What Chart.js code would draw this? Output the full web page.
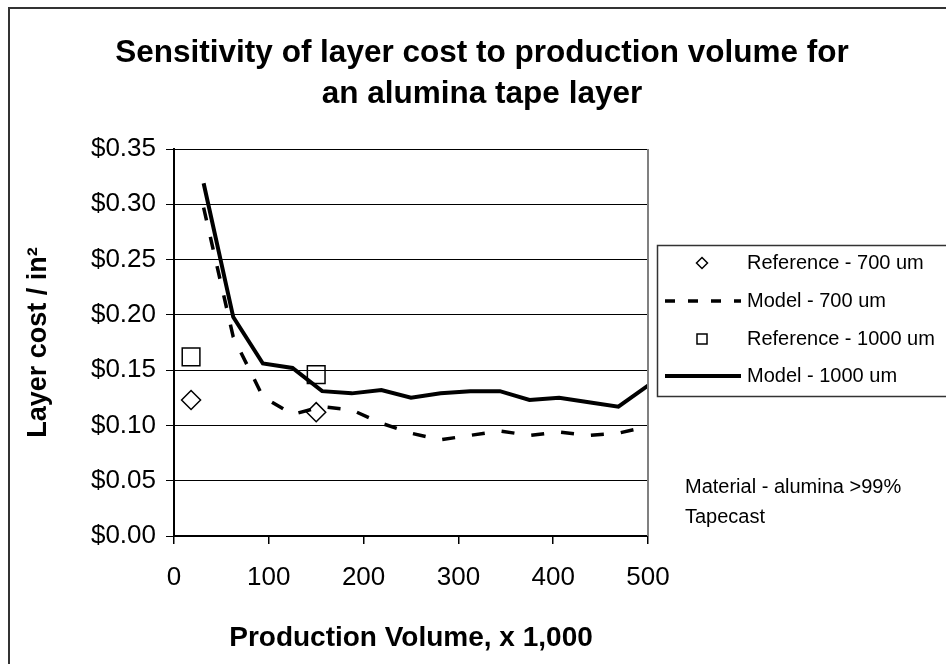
<!DOCTYPE html>
<html>
<head>
<meta charset="utf-8">
<script src="https://cdn.jsdelivr.net/npm/chart.js@4"></script>
<style>
  body { margin: 0; background: #fff; }
  canvas { display: block; }
</style>
</head>
<body>
<canvas id="cost-chart" width="946" height="664"></canvas>
<script>
var volumes = [31.25, 62.5, 93.75, 125, 156.25, 187.5, 218.75, 250, 281.25, 312.5, 343.75, 375, 406.25, 437.5, 468.75, 500];
var model700 = [0.297, 0.180, 0.126, 0.110, 0.117, 0.114, 0.102, 0.093, 0.087, 0.091, 0.095, 0.091, 0.094, 0.091, 0.093, 0.099];
var model1000 = [0.319, 0.198, 0.156, 0.152, 0.131, 0.129, 0.132, 0.125, 0.129, 0.131, 0.131, 0.123, 0.125, 0.121, 0.117, 0.136];
var refVolumes = [18, 150];
var ref700 = [0.123, 0.112];
var ref1000 = [0.162, 0.146];
var xTicks = [0, 100, 200, 300, 400, 500];
var titleLines = ['Sensitivity of layer cost to production volume for', 'an alumina tape layer'];
var noteLines = ['Material - alumina >99%', 'Tapecast'];

var FONT = '"Liberation Sans", Arial, sans-serif';

function pairs(xs, ys) {
	return xs.map(function(x, i) { return {x: x, y: ys[i]}; });
}

// title, border, legend box and note, drawn like the excel sheet
var extras = {
	id: 'extras',
	afterDraw: function(chart) {
		var c = chart.ctx, a = chart.chartArea;
		c.save();

		c.strokeStyle = '#808080';
		c.lineWidth = 2;
		c.beginPath();
		c.moveTo(a.right, a.top);
		c.lineTo(a.right, a.bottom);
		c.stroke();

		c.strokeStyle = '#333';
		c.lineWidth = 2;
		c.strokeRect(9, 8, 1000, 1000);

		c.fillStyle = '#000';
		c.textAlign = 'center';
		c.textBaseline = 'alphabetic';
		c.font = 'bold 31.5px ' + FONT;
		c.fillText(titleLines[0], 482, 62);
		c.fillText(titleLines[1], 482, 103);

		// legend
		c.strokeStyle = '#333';
		c.lineWidth = 1.5;
		c.strokeRect(657.5, 245.5, 400, 151);
		var rows = [263, 301, 339, 376];
		c.font = '20px ' + FONT;
		c.textAlign = 'left';
		c.textBaseline = 'middle';
		chart.data.datasets.forEach(function(ds, i) {
			var y = rows[i];
			c.strokeStyle = '#000';
			if (ds.showLine) {
				c.lineWidth = ds.borderWidth;
				c.setLineDash(ds.borderDash ? [10, 13] : []);
				c.beginPath();
				c.moveTo(665, y);
				c.lineTo(741, y);
				c.stroke();
				c.setLineDash([]);
			} else {
				c.lineWidth = 1.5;
				c.beginPath();
				if (ds.pointStyle === 'rectRot') {
					c.moveTo(702, y - 5.5); c.lineTo(707.5, y); c.lineTo(702, y + 5.5); c.lineTo(696.5, y); c.closePath();
				} else {
					c.rect(697, y - 5, 10, 10);
				}
				c.stroke();
			}
			c.fillText(ds.label, 747, y);
		});

		c.textBaseline = 'alphabetic';
		c.fillText(noteLines[0], 685, 493);
		c.fillText(noteLines[1], 685, 523);
		c.restore();
	}
};

var config = {
	type: 'scatter',
	data: {
		datasets: [{
			label: 'Reference - 700 um',
			data: pairs(refVolumes, ref700),
			pointStyle: 'rectRot',
			pointRadius: 9.5,
			pointBorderWidth: 1.5,
			pointBorderColor: '#000',
			pointBackgroundColor: 'rgba(255,255,255,0)'
		}, {
			label: 'Model - 700 um',
			data: pairs(volumes, model700),
			showLine: true,
			borderColor: '#000',
			borderWidth: 3.5,
			borderDash: [13, 17],
			pointRadius: 0,
			tension: 0
		}, {
			label: 'Reference - 1000 um',
			data: pairs(refVolumes, ref1000),
			pointStyle: 'rect',
			pointRadius: 12.5,
			pointBorderWidth: 1.5,
			pointBorderColor: '#000',
			pointBackgroundColor: 'rgba(255,255,255,0)'
		}, {
			label: 'Model - 1000 um',
			data: pairs(volumes, model1000),
			showLine: true,
			borderColor: '#000',
			borderWidth: 4,
			pointRadius: 0,
			tension: 0
		}]
	},
	options: {
		responsive: false,
		animation: false,
		layout: {
			padding: {left: 22, right: 298, top: 149, bottom: 9}
		},
		plugins: {
			legend: {display: false},
			title: {display: false},
			tooltip: {enabled: false}
		},
		scales: {
			x: {
				type: 'linear',
				min: 0,
				max: 500,
				afterBuildTicks: function(scale) {
					scale.ticks = xTicks.map(function(v) { return {value: v}; });
				},
				afterFit: function(scale) { scale.height = 119; },
				grid: {drawOnChartArea: false, color: '#000', tickLength: 8, lineWidth: 1.5},
				border: {color: '#000', width: 2},
				ticks: {color: '#000', font: {size: 26, family: FONT}, padding: 18},
				title: {
					display: true,
					text: 'Production Volume, x 1,000',
					color: '#000',
					font: {size: 28, weight: 'bold', family: FONT},
					padding: {top: 0, bottom: 0}
				}
			},
			y: {
				min: 0,
				max: 0.35,
				afterFit: function(scale) { scale.width = 152; },
				grid: {color: '#000', lineWidth: 1, tickLength: 8},
				border: {color: '#000', width: 2},
				ticks: {
					stepSize: 0.05,
					color: '#000',
					padding: 10,
					font: {size: 26, family: FONT},
					callback: function(v) { return '$' + v.toFixed(2); }
				},
				title: {
					display: true,
					text: 'Layer cost / in²',
					color: '#000',
					font: {size: 27, weight: 'bold', family: FONT},
					padding: {top: 0, bottom: 0}
				}
			}
		}
	},
	plugins: [extras]
};

var ctx = document.getElementById('cost-chart').getContext('2d');
window.costChart = new Chart(ctx, config);
</script>
</body>
</html>
